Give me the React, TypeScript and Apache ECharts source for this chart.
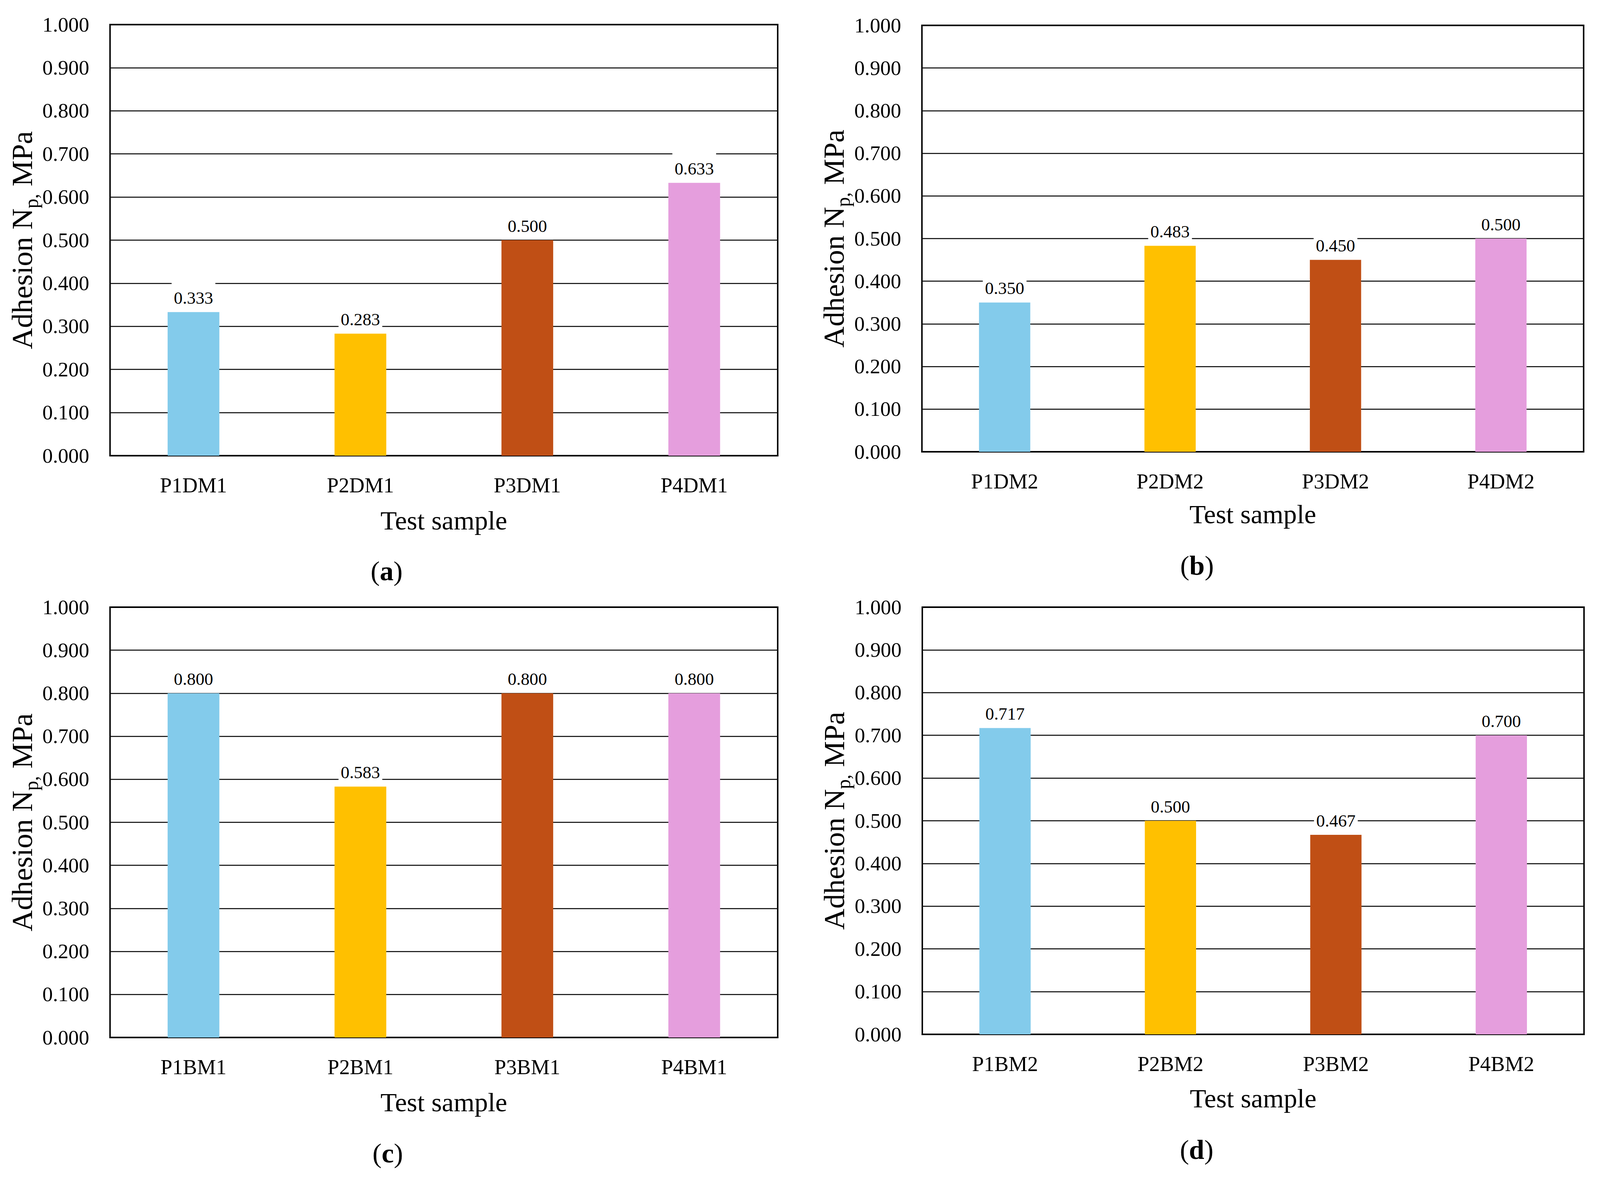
import React, { useEffect, useRef } from "react";
import * as echarts from "echarts";

const catsA = ["P1DM1", "P2DM1", "P3DM1", "P4DM1"];
const valsA = [0.333, 0.283, 0.5, 0.633];
const catsB = ["P1DM2", "P2DM2", "P3DM2", "P4DM2"];
const valsB = [0.35, 0.483, 0.45, 0.5];
const catsC = ["P1BM1", "P2BM1", "P3BM1", "P4BM1"];
const valsC = [0.8, 0.583, 0.8, 0.8];
const catsD = ["P1BM2", "P2BM2", "P3BM2", "P4BM2"];
const valsD = [0.717, 0.5, 0.467, 0.7];
const barColors = ["#83CBEB", "#FFC000", "#C04F15", "#E59EDD"];
const panelLetters = ["a", "b", "c", "d"];
const yTitle = "{n|Adhesion N}{s|p,}{n| MPa}";
const xTitle = "Test sample";

const FONT = "'Liberation Serif', 'Times New Roman', serif";
const REF_W = 4304;
const REF_H = 3022;

const grids = [
  { left: 296, top: 63, width: 1796, height: 1104 },
  { left: 2480, top: 65, width: 1780, height: 1092 },
  { left: 296, top: 1555, width: 1796, height: 1102 },
  { left: 2481, top: 1555, width: 1780, height: 1094 },
];
const xNameGaps = [132, 126, 132, 130];
const letterPos = [
  [1040, 1462],
  [3220, 1448],
  [1043, 2953],
  [3219, 2944],
];

export default function App() {
  const ref = useRef<HTMLDivElement>(null);
  useEffect(() => {
    const el = ref.current;
    if (!el) return;
    const W = el.clientWidth || REF_W;
    const H = el.clientHeight || REF_H;
    const sx = W / REF_W;
    const sy = H / REF_H;
    const sf = Math.min(sx, sy);
    const X = (v: number) => v * sx;
    const Y = (v: number) => v * sy;
    const F = (v: number) => v * sf;

    const chart = echarts.init(el, undefined, { renderer: "svg" });
    const cats = [catsA, catsB, catsC, catsD];
    const vals = [valsA, valsB, valsC, valsD];

    const option: any = {
      animation: false,
      backgroundColor: "#ffffff",
      textStyle: { fontFamily: FONT, color: "#000" },
      grid: grids.map((g) => ({
        left: X(g.left),
        top: Y(g.top),
        width: X(g.width),
        height: Y(g.height),
        show: true,
        borderColor: "#000",
        borderWidth: F(4),
        backgroundColor: "transparent",
        containLabel: false,
      })),
      xAxis: cats.map((c, i) => ({
        type: "category",
        gridIndex: i,
        data: c,
        name: xTitle,
        nameLocation: "middle",
        nameGap: Y(xNameGaps[i]),
        nameTextStyle: { fontFamily: FONT, fontSize: F(72), color: "#000", lineHeight: F(72) },
        axisTick: { show: false },
        axisLine: { show: true, lineStyle: { color: "#000", width: F(4) } },
        axisLabel: { fontFamily: FONT, fontSize: F(57), color: "#000", margin: Y(49) },
        splitLine: { show: false },
      })),
      yAxis: cats.map((_c, i) => ({
        type: "value",
        gridIndex: i,
        min: 0,
        max: 1,
        interval: 0.1,
        name: yTitle,
        nameLocation: "middle",
        nameRotate: 90,
        nameGap: X(176),
        nameTextStyle: {
          fontFamily: FONT,
          color: "#000",
          rich: {
            n: { fontFamily: FONT, fontSize: Y(75), lineHeight: Y(97), color: "#000", verticalAlign: "middle" },
            s: { fontFamily: FONT, fontSize: Y(50), lineHeight: Y(50), color: "#000", verticalAlign: "bottom" },
          },
        },
        axisLine: { show: false },
        axisTick: { show: false },
        axisLabel: {
          fontFamily: FONT,
          fontSize: F(56),
          color: "#000",
          margin: X(56),
          formatter: (v: number) => v.toFixed(3),
        },
        splitLine: { show: true, lineStyle: { color: "#000", width: F(2.5) } },
      })),
      series: vals.map((v, i) => ({
        type: "bar",
        xAxisIndex: i,
        yAxisIndex: i,
        barWidth: "31%",
        data: v.map((val, j) => ({ value: val, itemStyle: { color: barColors[j] } })),
        label: {
          show: true,
          position: "top",
          distance: Y(8),
          fontFamily: FONT,
          fontSize: F(47),
          lineHeight: F(47),
          color: "#000",
          backgroundColor: "#ffffff",
          padding: [Y(22), X(6), Y(6), X(6)],
          formatter: (p: any) => Number(p.value).toFixed(3),
        },
      })),
      graphic: letterPos.map((pos, i) => ({
        type: "text",
        x: X(pos[0]),
        y: Y(pos[1]),
        style: {
          text: "{p|(}{b|" + panelLetters[i] + "}{p|)}",
          align: "center",
          verticalAlign: "middle",
          rich: {
            p: { fontFamily: FONT, fontSize: F(74), fill: "#000" },
            b: { fontFamily: FONT, fontSize: F(74), fontWeight: "bold", fill: "#000" },
          },
        },
      })),
    };
    chart.setOption(option);
    return () => chart.dispose();
  }, []);
  return (
    <div
      ref={ref}
      style={{ position: "fixed", left: 0, top: 0, width: "100vw", height: "100vh", background: "#fff" }}
    />
  );
}
